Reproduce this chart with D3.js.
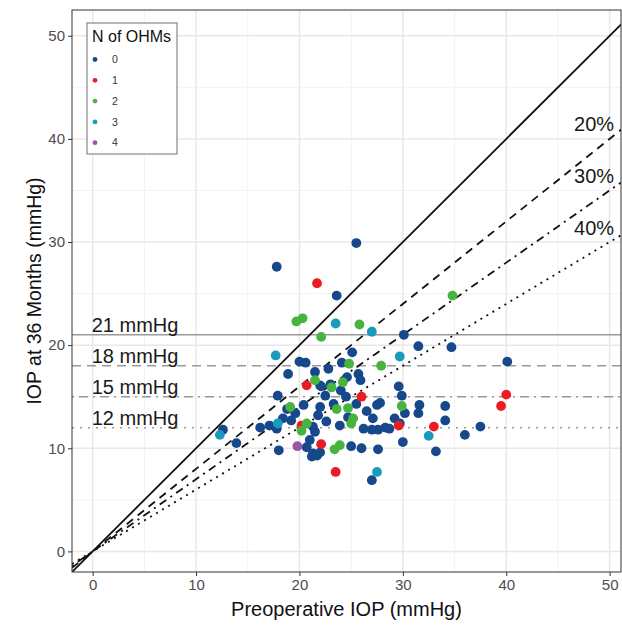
<!DOCTYPE html>
<html>
<head>
<meta charset="utf-8">
<script src="https://cdn.jsdelivr.net/npm/d3@7"></script>
<style>
  body { margin: 0; background: #fff; }
  text { font-family: "Liberation Sans", Arial, sans-serif; }
</style>
</head>
<body>
<div id="mainDiv"></div>
<script>
'use strict';

// OHM group 0..4, preoperative IOP and IOP at 36 months
var preop0 = [17.8, 23.6, 25.5, 20.0, 20.6, 18.9, 17.9, 30.1, 31.5, 34.7, 25.1, 24.1, 40.1, 22.8, 21.5, 25.7, 25.9, 24.6, 22.0, 22.5, 29.6, 24.5, 29.9, 34.1, 31.6, 27.8, 27.5, 25.5, 23.3, 22.0, 20.4, 30.2, 31.5, 34.1, 24.7, 27.1, 29.2, 21.8, 21.3, 23.9, 26.2, 27.0, 27.6, 28.3, 29.7, 37.5, 36.0, 30.0, 33.2, 27.6, 26.0, 25.0, 20.7, 21.3, 22.0, 27.0, 21.0, 21.5, 12.6, 13.9, 16.2, 17.1, 17.8, 18.0, 18.8, 18.4, 19.2, 19.6, 21.7, 21.2, 23.0, 22.1, 24.0, 26.5, 28.7, 22.6];
var iop0   = [27.6, 24.8, 29.9, 18.4, 18.3, 17.2, 15.1, 21.0, 19.9, 19.8, 19.3, 18.3, 18.4, 17.7, 17.4, 17.2, 16.6, 16.9, 16.1, 15.1, 16.0, 15.0, 15.1, 14.1, 14.2, 14.4, 14.2, 14.3, 14.3, 14.0, 14.2, 13.4, 13.4, 12.7, 13.0, 12.9, 12.9, 13.2, 12.1, 12.2, 11.9, 11.8, 11.8, 12.0, 12.4, 12.1, 11.3, 10.6, 9.7, 9.9, 10.0, 10.2, 10.1, 9.5, 9.6, 6.9, 10.8, 11.6, 11.8, 10.5, 12.0, 12.2, 11.9, 9.8, 13.8, 12.9, 12.7, 13.4, 9.3, 9.2, 16.2, 16.0, 15.6, 13.6, 11.9, 12.6];
var preop1 = [21.7, 20.7, 26.0, 40.0, 39.5, 20.2, 22.1, 23.5, 29.6, 33.0];
var iop1   = [26.0, 16.1, 15.0, 15.2, 14.1, 12.2, 10.4, 7.7, 12.2, 12.1];
var preop2 = [19.7, 20.3, 22.1, 25.8, 34.8, 24.8, 27.9, 21.5, 24.2, 23.1, 29.9, 24.7, 23.6, 25.2, 20.7, 25.0, 23.9, 23.4, 20.2, 19.1];
var iop2   = [22.3, 22.6, 20.8, 22.0, 24.8, 18.2, 18.0, 16.6, 16.4, 15.9, 14.1, 13.9, 13.8, 12.9, 12.4, 12.4, 10.3, 9.9, 11.7, 14.0];
var preop3 = [17.7, 23.5, 27.0, 29.7, 32.5, 27.5, 12.3, 17.9];
var iop3   = [19.0, 22.1, 21.3, 18.9, 11.2, 7.7, 11.3, 12.4];
var preop4 = [19.8];
var iop4   = [10.2];

var groups = ["0", "1", "2", "3", "4"];
var groupColors = ["#17488c", "#ec1c24", "#47b43f", "#1a9bbd", "#9a55ab"];

var xTicks = [0, 10, 20, 30, 40, 50];
var yTicks = [0, 10, 20, 30, 40, 50];
var minorTicks = [5, 15, 25, 35, 45];

// reduction lines (fraction kept) and thresholds
var reductions = [0.8, 0.7, 0.6];
var reductionLabels = ["20%", "30%", "40%"];
var thresholds = [21, 18, 15, 12];
var thresholdLabels = ["21 mmHg", "18 mmHg", "15 mmHg", "12 mmHg"];

var myApp = {};

myApp.run = function ()
{
    var W = 622, H = 625;
    var left = 72, right = 621, top = 10, bottom = 572;

    var svg = d3.select("#mainDiv").append("svg")
        .attr("width", W)
        .attr("height", H);

    var x = d3.scaleLinear().domain([-2, 51.1]).range([left, right]);
    var y = d3.scaleLinear().domain([-2, 52.5]).range([bottom, top]);

    svg.append("defs").append("clipPath").attr("id", "clip")
        .append("rect")
        .attr("x", left).attr("y", top)
        .attr("width", right - left).attr("height", bottom - top);

    // grid
    var grid = svg.append("g");
    grid.selectAll(".vminor").data(minorTicks).enter().append("line")
        .attr("x1", function(d){ return x(d); }).attr("x2", function(d){ return x(d); })
        .attr("y1", top).attr("y2", bottom)
        .attr("stroke", "#f2f2f2").attr("stroke-width", 1);
    grid.selectAll(".hminor").data(minorTicks).enter().append("line")
        .attr("y1", function(d){ return y(d); }).attr("y2", function(d){ return y(d); })
        .attr("x1", left).attr("x2", right)
        .attr("stroke", "#f2f2f2").attr("stroke-width", 1);
    grid.selectAll(".vmajor").data(xTicks).enter().append("line")
        .attr("x1", function(d){ return x(d); }).attr("x2", function(d){ return x(d); })
        .attr("y1", top).attr("y2", bottom)
        .attr("stroke", "#e8e8e8").attr("stroke-width", 1.5);
    grid.selectAll(".hmajor").data(yTicks).enter().append("line")
        .attr("y1", function(d){ return y(d); }).attr("y2", function(d){ return y(d); })
        .attr("x1", left).attr("x2", right)
        .attr("stroke", "#e8e8e8").attr("stroke-width", 1.5);

    var plot = svg.append("g").attr("clip-path", "url(#clip)");

    // threshold lines
    var hDash = [null, "9,6", "2,5,9,5", "2,6"];
    plot.selectAll(".thr").data(thresholds).enter().append("line")
        .attr("x1", left).attr("x2", right)
        .attr("y1", function(d){ return y(d); }).attr("y2", function(d){ return y(d); })
        .attr("stroke", "#999999").attr("stroke-width", 1.5)
        .attr("stroke-dasharray", function(d, i){ return hDash[i]; });

    // identity and reduction lines
    var dLines = [1].concat(reductions);
    var dDash = [null, "8,6", "2,5,8,5", "2,5"];
    plot.selectAll(".diag").data(dLines).enter().append("line")
        .attr("x1", x(-2)).attr("y1", function(d){ return y(-2 * d); })
        .attr("x2", x(60)).attr("y2", function(d){ return y(60 * d); })
        .attr("stroke", "#111").attr("stroke-width", 1.8)
        .attr("stroke-dasharray", function(d, i){ return dDash[i]; });

    // points
    var pts = [];
    var px = [preop0, preop1, preop2, preop3, preop4];
    var py = [iop0, iop1, iop2, iop3, iop4];
    for (var g = 0; g < px.length; g++)
    {
        for (var i = 0; i < px[g].length; i++)
        {
            pts.push({ x: px[g][i], y: py[g][i], g: g });
        }
    }
    plot.selectAll("circle").data(pts).enter().append("circle")
        .attr("cx", function(d){ return x(d.x); })
        .attr("cy", function(d){ return y(d.y); })
        .attr("r", 4.9)
        .attr("fill", function(d){ return groupColors[d.g]; });

    // annotations
    svg.selectAll(".thrLab").data(thresholds).enter().append("text")
        .attr("x", x(4.1)).attr("y", function(d){ return y(d + 0.95); })
        .attr("text-anchor", "middle").attr("dy", "0.35em")
        .attr("font-size", "20px").attr("fill", "#1a1a1a")
        .text(function(d, i){ return thresholdLabels[i]; });
    svg.selectAll(".redLab").data(reductions).enter().append("text")
        .attr("x", x(48.5)).attr("y", function(d){ return y(50 * d + 1.4); })
        .attr("text-anchor", "middle").attr("dy", "0.35em")
        .attr("font-size", "20px").attr("fill", "#1a1a1a")
        .text(function(d, i){ return reductionLabels[i]; });

    // panel border
    svg.append("rect")
        .attr("x", left).attr("y", top)
        .attr("width", right - left).attr("height", bottom - top)
        .attr("fill", "none").attr("stroke", "#333").attr("stroke-width", 1);

    // axes
    var xAxis = svg.append("g").attr("transform", "translate(0," + bottom + ")")
        .call(d3.axisBottom(x).tickValues(xTicks).tickSize(4).tickPadding(3));
    var yAxis = svg.append("g").attr("transform", "translate(" + left + ",0)")
        .call(d3.axisLeft(y).tickValues(yTicks).tickSize(4).tickPadding(3));
    [xAxis, yAxis].forEach(function(a)
    {
        a.select(".domain").remove();
        a.selectAll("line").attr("stroke", "#333");
        a.selectAll("text").attr("fill", "#4d4d4d")
            .attr("font-size", "15px").attr("font-family", "Liberation Sans, Arial, sans-serif");
    });

    svg.append("text")
        .attr("x", (left + right) / 2).attr("y", 616)
        .attr("text-anchor", "middle")
        .attr("font-size", "20px").attr("fill", "#111")
        .text("Preoperative IOP (mmHg)");
    svg.append("text")
        .attr("transform", "translate(41," + ((top + bottom) / 2) + ") rotate(-90)")
        .attr("text-anchor", "middle")
        .attr("font-size", "19.5px").attr("fill", "#111")
        .text("IOP at 36 Months (mmHg)");

    // legend
    var lg = svg.append("g");
    lg.append("rect")
        .attr("x", 87).attr("y", 23).attr("width", 90).attr("height", 131)
        .attr("fill", "#fff").attr("stroke", "#888").attr("stroke-width", 1.2);
    lg.append("text").attr("x", 92).attr("y", 42)
        .attr("font-size", "16px").attr("fill", "#111").text("N of OHMs");
    var items = lg.selectAll(".item").data(groups).enter().append("g")
        .attr("transform", function(d, i){ return "translate(95," + (59.5 + i * 20.8) + ")"; });
    items.append("circle").attr("r", 2.4)
        .attr("fill", function(d, i){ return groupColors[i]; });
    items.append("text").attr("x", 17).attr("dy", "0.35em")
        .attr("font-size", "10.5px").attr("fill", "#333")
        .text(function(d){ return d; });
}

window.onload = myApp.run;
</script>
</body>
</html>
